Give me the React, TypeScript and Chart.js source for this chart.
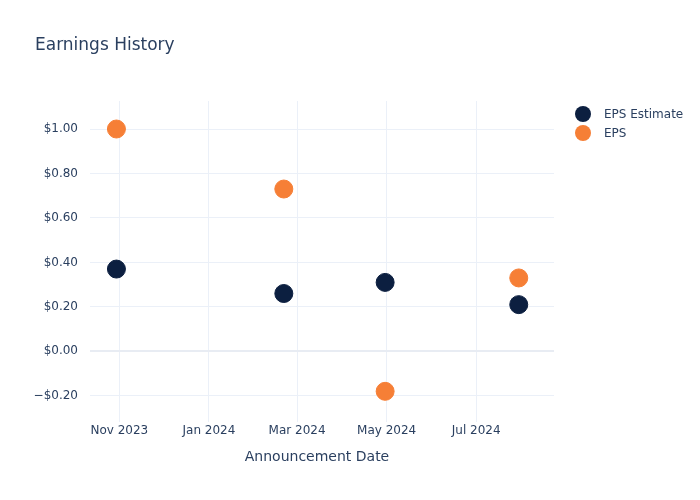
import React, { useEffect, useRef } from "react";
import { Chart, registerables } from "chart.js";

Chart.register(...registerables);

const announcementDates = ["2023-10-30", "2024-02-21", "2024-04-30", "2024-07-30"];
const epsEstimate = [0.37, 0.26, 0.31, 0.21];
const epsActual = [1.0, 0.73, -0.18, 0.33];
const xTickDates = ["2023-11-01", "2024-01-01", "2024-03-01", "2024-05-01", "2024-07-01"];
const xTickLabels = ["Nov 2023", "Jan 2024", "Mar 2024", "May 2024", "Jul 2024"];
const yTickValues = [-0.2, 0, 0.2, 0.4, 0.6, 0.8, 1.0];
const xRange = ["2023-10-12", "2024-08-23"];
const yRange = [-0.318, 1.126];

const seriesNames = ["EPS Estimate", "EPS"];
const seriesColors = ["#0c1f40", "#f67f36"];

const toDay = (s: string) => Date.parse(s + "T00:00:00Z") / 86400000;

const FONT = "'DejaVu Sans', 'Open Sans', Verdana, Arial, sans-serif";
const TEXT = "#2a3f5f";

export default function App() {
  const ref = useRef<HTMLCanvasElement | null>(null);

  useEffect(() => {
    if (!ref.current) return;
    const xTicks = xTickDates.map(toDay);
    const chart = new Chart(ref.current, {
      type: "scatter",
      data: {
        datasets: [
          {
            label: seriesNames[0],
            data: announcementDates.map((d, i) => ({ x: toDay(d), y: epsEstimate[i] })),
            backgroundColor: seriesColors[0],
            borderColor: seriesColors[0],
            pointRadius: 9,
            pointHoverRadius: 9,
          },
          {
            label: seriesNames[1],
            data: announcementDates.map((d, i) => ({ x: toDay(d), y: epsActual[i] })),
            backgroundColor: seriesColors[1],
            borderColor: seriesColors[1],
            pointRadius: 9,
            pointHoverRadius: 9,
          },
        ],
      },
      options: {
        animation: false,
        responsive: false,
        maintainAspectRatio: false,
        layout: { padding: { left: 0, top: 101, right: 146, bottom: 0 } },
        plugins: { legend: { display: false }, tooltip: { enabled: false } },
        scales: {
          x: {
            type: "linear",
            min: toDay(xRange[0]),
            max: toDay(xRange[1]),
            border: { display: false },
            grid: { color: "#EBF0F8", lineWidth: 1, drawTicks: false },
            afterBuildTicks: (scale: any) => {
              scale.ticks = xTicks.map((v) => ({ value: v }));
            },
            afterFit: (scale: any) => {
              scale.height = 78;
            },
            ticks: {
              autoSkip: false,
              maxRotation: 0,
              padding: 2,
              color: TEXT,
              font: { family: FONT, size: 12 },
              callback: (v: any) => {
                const i = xTicks.indexOf(Number(v));
                return i >= 0 ? xTickLabels[i] : "";
              },
            },
          },
          y: {
            type: "linear",
            min: yRange[0],
            max: yRange[1],
            border: { display: false },
            grid: {
              drawTicks: false,
              color: (ctx: any) => (ctx.tick && Math.abs(ctx.tick.value) < 1e-9 ? "#E8ECF3" : "#EBF0F8"),
              lineWidth: (ctx: any) => (ctx.tick && Math.abs(ctx.tick.value) < 1e-9 ? 2 : 1),
            },
            afterBuildTicks: (scale: any) => {
              scale.ticks = yTickValues.map((v) => ({ value: v }));
            },
            afterFit: (scale: any) => {
              scale.width = 90;
            },
            ticks: {
              padding: 12,
              color: TEXT,
              font: { family: FONT, size: 12 },
              callback: (v: any) => {
                const n = Number(v);
                const s = "$" + Math.abs(n).toFixed(2);
                return n < -1e-9 ? "\u2212" + s : s;
              },
            },
          },
        },
      },
    } as any);
    return () => chart.destroy();
  }, []);

  return (
    <div style={{ position: "fixed", left: 0, top: 0, width: 700, height: 500, background: "#fff", fontFamily: FONT, color: TEXT }}>
      <canvas ref={ref} width={700} height={500} style={{ position: "absolute", left: 0, top: 0, width: 700, height: 500 }} />
      <div style={{ position: "absolute", left: 35, top: 33, fontSize: 17, lineHeight: "22px", whiteSpace: "nowrap" }}>Earnings History</div>
      <div style={{ position: "absolute", left: 0, width: 643, top: 447, fontSize: 14, lineHeight: "18px", whiteSpace: "nowrap" }}>
        <span style={{ position: "absolute", left: 317, transform: "translateX(-50%)" }}>Announcement Date</span>
      </div>
      {seriesNames.map((name, i) => (
        <div key={name} style={{ position: "absolute", left: 575, top: 105 + i * 19, height: 18, display: "flex", alignItems: "center", fontSize: 12, whiteSpace: "nowrap" }}>
          <span style={{ display: "inline-block", width: 16, height: 16, borderRadius: 8, background: seriesColors[i], marginRight: 13 }} />
          <span>{name}</span>
        </div>
      ))}
    </div>
  );
}
